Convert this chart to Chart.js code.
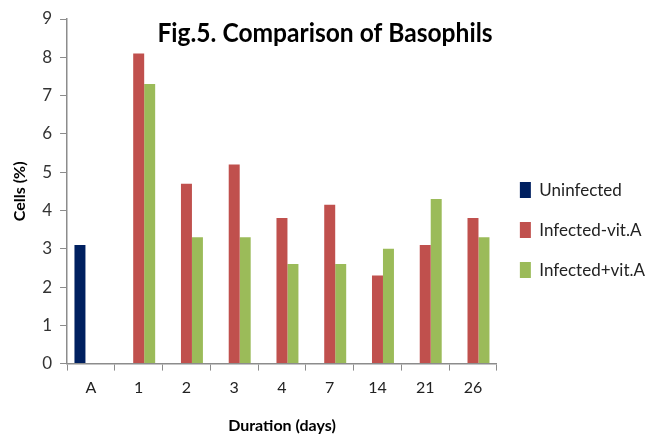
<!DOCTYPE html>
<html>
<head>
<meta charset="utf-8">
<script src="https://cdn.jsdelivr.net/npm/chart.js@4"></script>
<style>
  html, body { margin: 0; padding: 0; background: #fff; }
  #wrap { width: 663px; height: 435px; position: relative; }
</style>
</head>
<body>
<div id="wrap"><canvas id="myChart"></canvas></div>
<script>
const categories = ["A", "1", "2", "3", "4", "7", "14", "21", "26"];
const uninfected = [3.1, null, null, null, null, null, null, null, null];
const infectedNoVit = [null, 8.1, 4.7, 5.2, 3.8, 4.15, 2.3, 3.1, 3.8];
const infectedVit = [null, 7.3, 3.3, 3.3, 2.6, 2.6, 3.0, 4.3, 3.3];
const yTicks = [0, 1, 2, 3, 4, 5, 6, 7, 8, 9];

const FONT = "Lato, 'Open Sans', sans-serif";

// title sits inside the plot area, so draw it by hand
const titlePlugin = {
  id: "figTitle",
  afterDraw(chart) {
    const ctx = chart.ctx;
    ctx.save();
    ctx.font = "bold 27px " + FONT;
    ctx.fillStyle = "#000";
    ctx.textAlign = "center";
    ctx.textBaseline = "alphabetic";
    ctx.translate(325, 42);
    ctx.scale(0.91, 1);
    ctx.fillText("Fig.5. Comparison of Basophils", 0, 0);
    ctx.restore();
  },
};

const data = {
  labels: categories,
  datasets: [
    { label: "Uninfected", data: uninfected, backgroundColor: "#002060" },
    { label: "Infected-vit.A", data: infectedNoVit, backgroundColor: "#C0504D" },
    { label: "Infected+vit.A", data: infectedVit, backgroundColor: "#9BBB59" },
  ],
};

const config = {
  type: "bar",
  data: data,
  plugins: [titlePlugin],
  options: {
    responsive: true,
    maintainAspectRatio: false,
    animation: false,
    datasets: {
      bar: { barPercentage: 1, categoryPercentage: 0.69 },
    },
    layout: { padding: { top: 19, right: 8, left: 6, bottom: 0 } },
    scales: {
      x: {
        grid: {
          display: true,
          drawOnChartArea: false,
          drawTicks: true,
          tickLength: 7,
          color: "#8c8c8c",
        },
        border: { color: "#8c8c8c", width: 1.5 },
        ticks: { color: "#222", font: { family: FONT, size: 16 }, padding: 8 },
        title: {
          display: true,
          text: "Duration (days)",
          color: "#000",
          font: { family: FONT, size: 16, weight: "bold" },
          padding: { top: 10, bottom: 0 },
        },
      },
      y: {
        min: 0,
        max: 9,
        afterBuildTicks: (axis) => {
          axis.ticks = yTicks.map((v) => ({ value: v }));
        },
        grid: {
          display: true,
          drawOnChartArea: false,
          drawTicks: true,
          tickLength: 7,
          color: "#8c8c8c",
        },
        border: { color: "#8c8c8c", width: 1.5 },
        ticks: { color: "#333", font: { family: FONT, size: 17 }, padding: 8 },
        title: {
          display: true,
          text: "Cells (%)",
          color: "#000",
          font: { family: FONT, size: 16, weight: "bold" },
          padding: { bottom: 5 },
        },
      },
    },
    plugins: {
      legend: {
        position: "right",
        align: "center",
        // empty title only used as a spacer to nudge the items down
        title: { display: true, text: " ", font: { size: 1 }, padding: { top: 5, bottom: 0 } },
        labels: {
          boxWidth: 11,
          boxHeight: 16,
          padding: 23,
          color: "#222",
          font: { family: FONT, size: 17 },
        },
      },
      tooltip: { enabled: false },
    },
  },
};

const myChart = new Chart(document.getElementById("myChart"), config);
</script>
</body>
</html>
